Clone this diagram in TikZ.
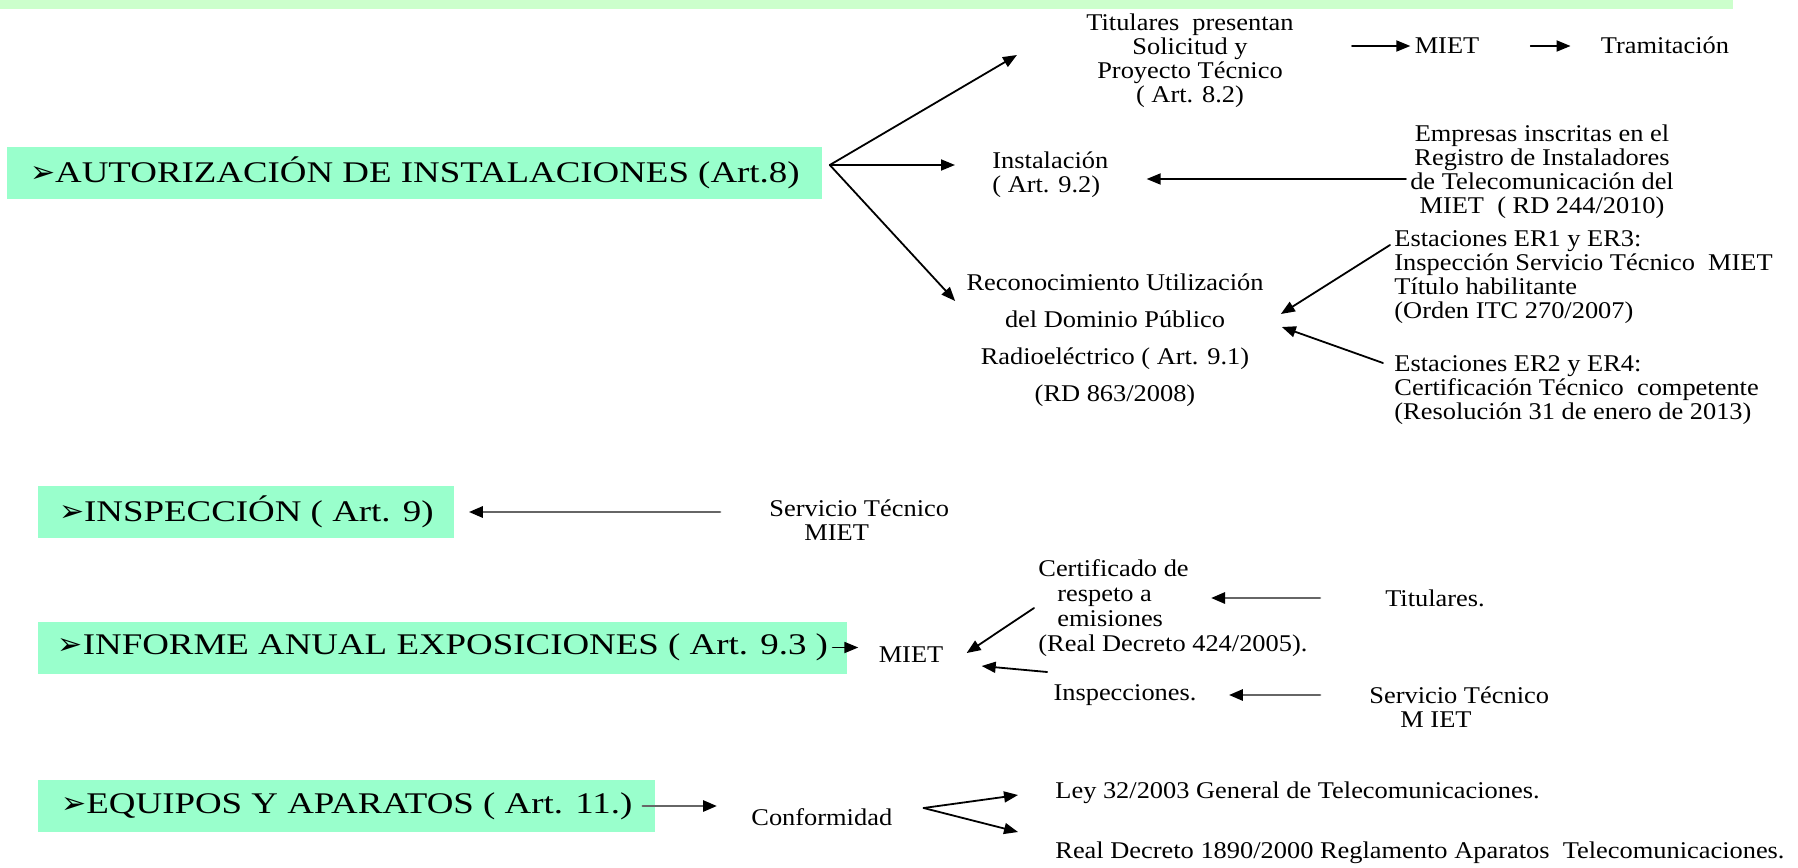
\documentclass[tikz,border=0pt]{standalone}
\usepackage{fontspec}
\setmainfont{Liberation Serif}[FakeStretch=1.1]
\newfontfamily\boxfont{Liberation Serif}[FakeStretch=1.23]
\newfontfamily\dingfont{DejaVu Sans}
\usetikzlibrary{arrows.meta}
\definecolor{boxgreen}{HTML}{99FFCC}
\definecolor{bandgreen}{HTML}{CCFFCC}
\newcommand{\flecha}{{\dingfont ➢}}

\begin{document}
\begin{tikzpicture}[x=0.5pt,y=-0.5pt,line cap=round,line join=round,
  >={Triangle[length=7pt,width=5.5pt]},
  txt/.style={inner sep=2pt,font=\fontsize{12}{12}\selectfont},
  box/.style={fill=boxgreen,anchor=west,minimum height=26pt,inner sep=2pt,font=\boxfont\fontsize{15}{16}\selectfont},
  arr/.style={->,line width=0.9pt},
  garr/.style={-{Triangle[length=7pt,width=5.5pt,color=black]},line width=1.4pt,draw=black!60}]
		\useasboundingbox (0,0) rectangle (1798,867);
		\fill[bandgreen] (0,0) rectangle (1733,9);
		\node[box,minimum width=407.5pt] (b1) at (7,173) {\flecha AUTORIZACIÓN DE INSTALACIONES (Art.8)};
		\node[box,minimum width=208pt] (b2) at (38,512) {\flecha INSPECCIÓN ( Art. 9)};
		\node[box,minimum width=404.5pt] (b3) at (38,647.5) {\flecha INFORME ANUAL EXPOSICIONES ( Art. 9.3 )};
		\node[box,minimum width=308.5pt] (b4) at (38,806) {\flecha EQUIPOS Y APARATOS ( Art. 11.)};
		\node[txt,align=center] (tit) at (1190,61) {Titulares~ presentan\\Solicitud y\\Proyecto Técnico\\( Art. 8.2)};
		\node[txt] (miet1) at (1447,46) {MIET};
		\node[txt] (tram) at (1665,45) {Tramitación};
		\node[txt,align=left,anchor=west] (inst) at (988,175) {Instalación\\( Art. 9.2)};
		\node[txt,align=center] (emp) at (1542,172) {Empresas inscritas en el\\Registro de Instaladores\\de Telecomunicación del\\MIET~ ( RD 244/2010)};
		\node[txt,align=center,font=\fontsize{12}{18.5}\selectfont] (reco) at (1115,340) {Reconocimiento Utilización\\del Dominio Público\\Radioeléctrico ( Art. 9.1)\\(RD 863/2008)};
		\node[txt,align=left,anchor=west] (er13) at (1390,277) {Estaciones ER1 y ER3:\\Inspección Servicio Técnico~ MIET\\Título habilitante\\(Orden ITC 270/2007)};
		\node[txt,align=left,anchor=west] (er24) at (1390,390) {Estaciones ER2 y ER4:\\Certificación Técnico~ competente\\(Resolución 31 de enero de 2013)};
		\node[txt,align=left,anchor=west] (serv1) at (765,520) {Servicio Técnico\\\hspace*{17.5pt}MIET};
		\node[txt] (miet2) at (911,655) {MIET};
		\node[txt,align=left,anchor=west,font=\fontsize{12}{12.5}\selectfont] (cert) at (1034,608) {Certificado de\\\hspace*{9.5pt}respeto a\\\hspace*{9.5pt}emisiones\\(Real Decreto 424/2005).};
		\node[txt] (tit2) at (1435,598) {Titulares.};
		\node[txt] (insp) at (1125,695) {Inspecciones.};
		\node[txt,align=left,anchor=west] (serv2) at (1365,707) {Servicio Técnico\\\hspace*{15.5pt}M IET};
		\node[txt,anchor=west] (conf) at (747,817) {Conformidad};
		\node[txt,anchor=west] (ley) at (1051,793) {Ley 32/2003 General de Telecomunicaciones.};
		\node[txt,anchor=west] (rd) at (1051,853) {Real Decreto 1890/2000 Reglamento Aparatos~ Telecomunicaciones.};
		\coordinate (fan) at ([xshift=3.5pt,yshift=4pt]b1.east);
		\draw[arr] (fan) -- ([xshift=-32.5pt,yshift=3pt]tit.west);
		\draw[arr,shorten >=16.5pt] (fan) -- (fan -| inst.west);
		\draw[arr] (fan) -- ([xshift=-3.5pt,yshift=19.5pt]reco.west);
		\draw[arr,shorten <=27pt] (tit.east |- miet1.west) -- (miet1.west);
		\draw[arr,shorten <=23.5pt,shorten >=13pt] (miet1.east) -- (miet1.east -| tram.west);
		\draw[arr,shorten >=17pt] ([yshift=-3.5pt]emp.west) -- ([yshift=-3.5pt]emp.west -| inst.east);
		\draw[arr] ([yshift=16pt]er13.west) -- ([xshift=6.5pt,yshift=13pt]reco.east);
		\draw[arr] ([xshift=-3.5pt,yshift=13.5pt]er24.west) -- ([xshift=7pt,yshift=6.5pt]reco.east);
		\draw[garr,shorten <=22.5pt,shorten >=7pt] (b2.east -| serv1.west) -- (b2.east);
		\draw[arr,shorten >=8pt] ([xshift=-7.5pt]b3.east) -- (b3.east -| miet2.west);
		\draw[arr] (cert.west) -- ([xshift=9.5pt,yshift=1pt]miet2.east);
		\draw[arr] ([xshift=-1pt,yshift=11.5pt]insp.west) -- ([xshift=17pt,yshift=-5.5pt]miet2.east);
		\draw[garr,shorten <=30.5pt,shorten >=88.5pt] (tit2.west) -- (tit2.west -| cert.west);
		\draw[garr,shorten <=22.5pt,shorten >=14pt] (serv2.west |- insp.east) -- (insp.east);
		\draw[garr,shorten >=15pt] ([xshift=-6.5pt]b4.east) -- (b4.east -| conf.west);
		\coordinate (cfan) at ([xshift=13.5pt,yshift=4.5pt]conf.east);
		\draw[arr] (cfan) -- ([xshift=-16.5pt,yshift=-1pt]ley.west);
		\draw[arr] (cfan) -- ([xshift=-16.5pt,yshift=10.5pt]rd.west);
\end{tikzpicture}
\end{document}
